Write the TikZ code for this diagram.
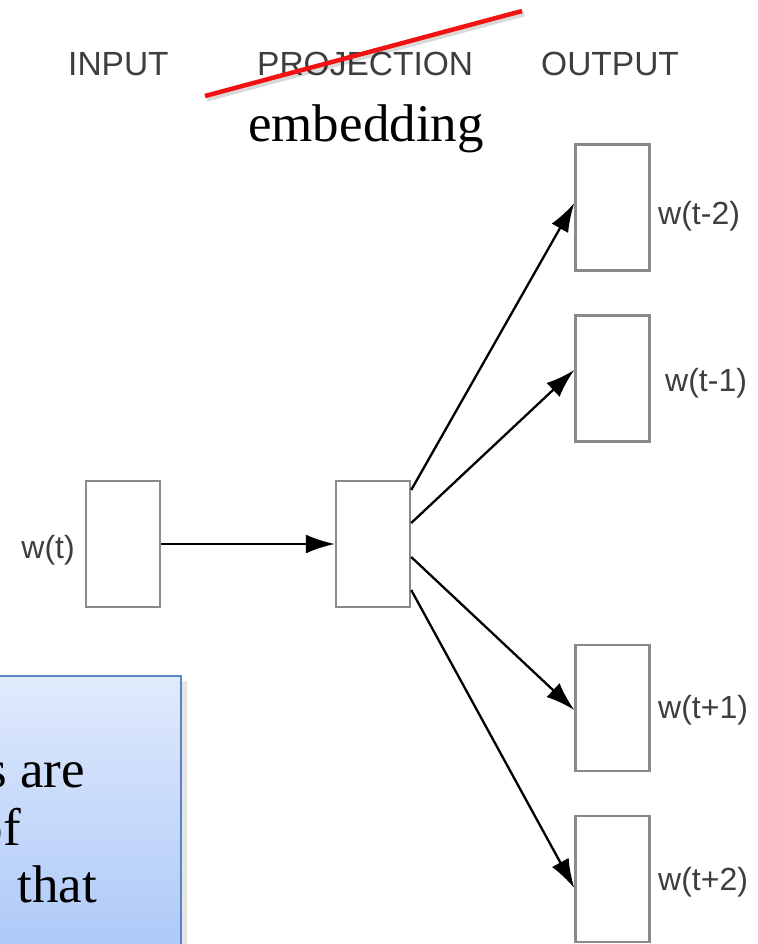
\documentclass[tikz,border=0pt]{standalone}
\usepackage{fontspec}
\newfontfamily\arial{Liberation Sans}
\newfontfamily\bookserif{Liberation Serif}
\usetikzlibrary{arrows.meta}
\definecolor{boxgray}{HTML}{8A8A8A}
\definecolor{labgray}{HTML}{3E3E3E}
\definecolor{notetop}{HTML}{E0EAFC}
\definecolor{notebot}{HTML}{ADC9F8}
\definecolor{noteedge}{HTML}{5A86C3}
\definecolor{strike}{HTML}{F21212}
\begin{document}
\begin{tikzpicture}[x=1pt,y=-1pt,
  wordbox/.style={draw=boxgray, line width=2.4pt, minimum width=74pt,
    minimum height=126pt, inner sep=0pt, fill=white},
  head/.style={font=\arial\fontsize{33.5}{40}\selectfont, text=labgray, inner sep=0pt},
  lab/.style={font=\arial\fontsize{32}{38}\selectfont, text=labgray, inner sep=0pt},
  conn/.style={line width=2.3pt, -{Latex[length=29pt,width=19pt]}},
  serif/.style={font=\bookserif\fontsize{53}{60}\selectfont, inner sep=0pt}
]
\useasboundingbox (0,0) rectangle (757,944);
\clip (0,0) rectangle (757,944);
\fill[white] (0,0) rectangle (757,944);

% column headings
\node[head, anchor=base west] (hin)   at (68,76)  {INPUT};
\node[head, anchor=base west] (hproj) at (257,76) {PROJECTION};
\node[head, anchor=base west] (hout)  at (541,76) {OUTPUT};

% strike-through over the projection heading, and its replacement word
\draw[black, opacity=0.15, line width=5pt] (207,99) -- (524,14);
\draw[strike, line width=4.5pt] (205,96) -- (522,11);
\node[serif, anchor=base west] (emb) at (248,142) {embedding};

% word vectors
\node[wordbox] (in)   at (123,544)   {};
\node[wordbox] (proj) at (373,544)   {};
\node[wordbox] (o1)   at (612.5,207.5) {};
\node[wordbox] (o2)   at (612.5,378.5) {};
\node[wordbox] (o3)   at (612.5,708)   {};
\node[wordbox] (o4)   at (612.5,879)   {};

% labels
\node[lab, anchor=east] (lin) at (75,550)  {w(t)};
\node[lab, anchor=west] (l1)  at (658,216) {w(t-2)};
\node[lab, anchor=west] (l2)  at (665,383) {w(t-1)};
\node[lab, anchor=west] (l3)  at (658,710) {w(t+1)};
\node[lab, anchor=west] (l4)  at (658,882) {w(t+2)};

% connections
\draw[conn] (in.east) -- (proj.west);
\draw[conn] ([yshift=54pt]proj.east)  -- ([yshift=4.5pt]o1.west);
\draw[conn] ([yshift=21pt]proj.east)  -- ([yshift=8.5pt]o2.west);
\draw[conn] ([yshift=-13pt]proj.east) -- ([yshift=-2pt]o3.west);
\draw[conn] ([yshift=-46pt]proj.east) -- ([yshift=-9pt]o4.west);

% note box in the lower left corner
\fill[black, opacity=0.10] (182,681) rectangle (187,950);
\shade[top color=notetop, bottom color=notebot] (-5,676) rectangle (181,950);
\draw[noteedge, line width=2pt] (-5,676) rectangle (181,950);
\node[serif, anchor=base east] (n1) at (85,787) {s are};
\node[serif, anchor=base east] (n2) at (21,845) {of};
\node[serif, anchor=base east] (n3) at (97,902) {that};
\end{tikzpicture}
\end{document}
